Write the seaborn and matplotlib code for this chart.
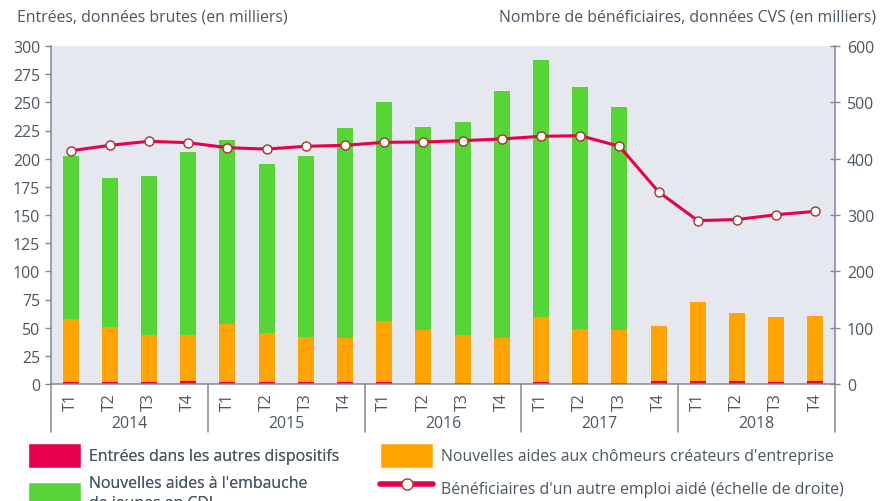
import numpy as np
import pandas as pd
import matplotlib
matplotlib.use("Agg")
import matplotlib.pyplot as plt
import seaborn as sns
from matplotlib.patches import Patch
from matplotlib.lines import Line2D

# ---------------- data ----------------
years = ["2014", "2015", "2016", "2017", "2018"]
quarters = ["T1", "T2", "T3", "T4"] * 5
autres = [2.0, 2.0, 2.0, 2.8, 2.0, 2.0, 2.0, 2.0, 2.0, 1.2,
          1.2, 1.2, 2.0, 1.2, 1.2, 2.8, 2.8, 2.8, 2.0, 2.8]
createurs = [55.7, 48.6, 41.7, 40.9, 51.2, 43.5, 39.7, 38.8, 53.9, 46.7,
             42.5, 39.8, 57.7, 47.6, 46.8, 48.7, 70.0, 60.2, 57.5, 57.5]
jeunes = [144.6, 132.2, 140.9, 162.2, 163.3, 149.7, 160.6, 186.4, 194.1, 180.1,
          188.8, 219.0, 227.8, 214.7, 197.8, 0, 0, 0, 0, 0]
beneficiaires = [414, 423.7, 430.8, 428.4, 419.5, 417, 422, 423.7, 429, 429.6,
                 432, 435, 439.7, 440.8, 422, 341, 290, 292, 300.5, 306.5]

sns.set_theme(style="white")
plt.rcParams['font.family'] = ['Open Sans', 'DejaVu Sans']

TXT = '#4a5663'
RED = '#e8004c'
ORANGE = '#ffa400'
GREEN = '#55d636'
BG = '#e5e8ee'
SPINE = '#7f8a95'
MEC = '#a8322a'
FS = 11.4

W, H = 886, 502
fig = plt.figure(figsize=(W / 100, H / 100), dpi=100)
L, R, B, T = 51, 835, 385, 47
ax = fig.add_axes([L / W, 1 - B / H, (R - L) / W, (B - T) / H])
ax.set_facecolor(BG)

periods = [f"{y} {q}" for y in years for q in ["T1", "T2", "T3", "T4"]]
df = pd.DataFrame({"periode": periods, "idx": np.arange(20),
                   "autres": autres, "createurs": createurs, "jeunes": jeunes,
                   "benef": beneficiaires})
df["c2"] = df["autres"] + df["createurs"]
df["c3"] = df["c2"] + df["jeunes"]

for col, c in [("c3", GREEN), ("c2", ORANGE), ("autres", RED)]:
    sns.barplot(data=df, x="periode", y=col, color=c, saturation=1, width=0.41,
                errorbar=None, linewidth=0, ax=ax, order=periods)

ax2 = ax.twinx()
sns.lineplot(data=df, x="idx", y="benef", ax=ax2, color=RED, linewidth=2.2,
             marker='o', markersize=6.5, markerfacecolor='white',
             markeredgecolor=MEC, markeredgewidth=1.0, zorder=5)

ax.set_xlim(-0.5, 19.5)
ax2.set_xlim(-0.5, 19.5)
ax.set_ylim(0, 300)
ax2.set_ylim(0, 600)
ax.set_yticks(range(0, 301, 25))
ax2.set_yticks(range(0, 601, 100))
ax.set_xlabel("")
ax.set_ylabel("")
ax2.set_xlabel("")
ax2.set_ylabel("")

ax.set_xticks(range(20))
ax.set_xticklabels(quarters, rotation=90)
ax.set_xticks(np.arange(-0.5, 20, 1), minor=True)
ax.tick_params(axis='x', which='major', length=0, pad=6, labelsize=FS, labelcolor=TXT)
ax.tick_params(axis='x', which='minor', length=19, width=1, color=SPINE, direction='out')
ax.tick_params(axis='y', length=4, width=1, color=SPINE, labelcolor=TXT,
               labelsize=FS, pad=4, direction='out', left=True)
ax2.tick_params(axis='y', length=7, width=1, color=SPINE, labelcolor=TXT,
                labelsize=FS, pad=5, direction='inout', right=True)

for s in ["top", "right"]:
    ax.spines[s].set_visible(False)
for s in ["top", "left", "bottom"]:
    ax2.spines[s].set_visible(False)
for s in ["left", "bottom"]:
    ax.spines[s].set_color(SPINE)
    ax.spines[s].set_linewidth(1.1)
ax2.spines["right"].set_color(SPINE)
ax2.spines["right"].set_linewidth(1.1)

tr = ax.get_xaxis_transform()
for b in [-0.5, 3.5, 7.5, 11.5, 15.5, 19.5]:
    ax.plot([b, b], [0, -48 / (B - T)], transform=tr, color=SPINE, lw=1.1, clip_on=False)
for i, y in enumerate(years):
    ax.text(i * 4 + 1.5, -39 / (B - T), y, transform=tr, ha='center', va='center',
            fontsize=FS, color=TXT)

fig.text(17 / W, 1 - 18 / H, "Entrées, données brutes (en milliers)", ha='left',
         va='center', fontsize=FS, color=TXT)
fig.text(876 / W, 1 - 18 / H, "Nombre de bénéficiaires, données CVS (en milliers)",
         ha='right', va='center', fontsize=FS, color=TXT)

px = FS * 100 / 72
common = dict(loc='upper left', frameon=False, borderpad=0, borderaxespad=0,
              handlelength=53 / px, handleheight=2.05, handletextpad=8 / px,
              fontsize=FS, labelcolor=TXT)
leg1 = fig.legend([Patch(facecolor=RED), Patch(facecolor=GREEN)],
                  ["Entrées dans les autres dispositifs",
                   "Nouvelles aides à l'embauche\nde jeunes en CDI"],
                  bbox_to_anchor=(28 / W, 1 - 444 / H), labelspacing=0.45, **common)
for t in leg1.get_texts():
    t.set_linespacing(1.35)
leg2 = fig.legend([Patch(facecolor=ORANGE),
                   Line2D([0], [0], color=RED, lw=4, marker='o', markersize=8,
                          markerfacecolor='white', markeredgecolor=MEC)],
                  ["Nouvelles aides aux chômeurs créateurs d'entreprise",
                   "Bénéficiaires d'un autre emploi aidé (échelle de droite)"],
                  bbox_to_anchor=(380 / W, 1 - 444 / H), labelspacing=0.45, **common)
fig.add_artist(leg1)

fig.savefig("out.png", dpi=100)
